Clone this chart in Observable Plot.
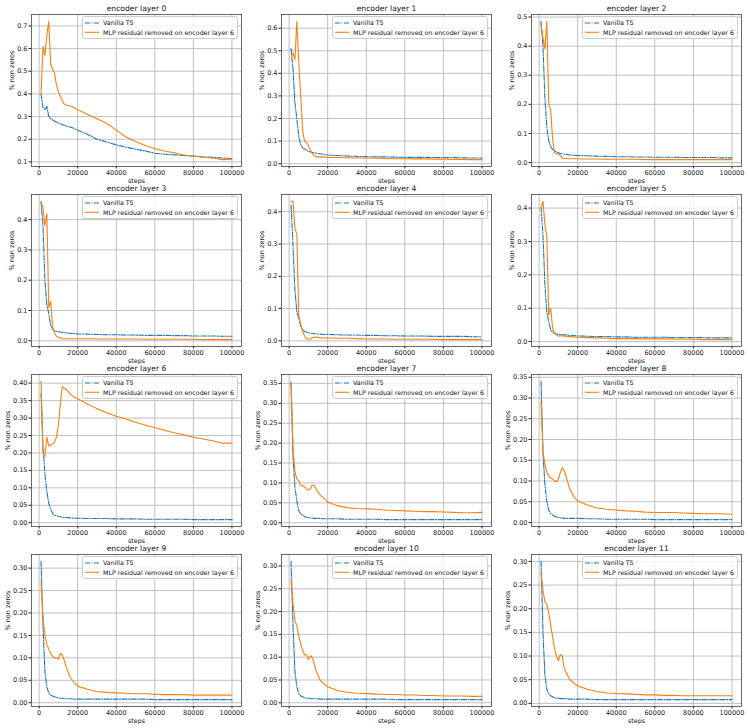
<!DOCTYPE html>
<html>
<head>
<meta charset="utf-8">
<script src="https://cdn.jsdelivr.net/npm/d3@7"></script>
<script src="https://cdn.jsdelivr.net/npm/@observablehq/plot@0.6"></script>
<style>
  body { margin: 0; background: white; }
  #root { position: relative; width: 748px; height: 728px; background: white; overflow: hidden; font-family: "DejaVu Sans", sans-serif; }
  .panel { position: absolute; width: 250px; height: 190px; }
  .panel svg.plot-svg { position: absolute; left: 0; top: 0; }
  .legend { position: absolute; left: 82px; top: 16px; }
</style>
</head>
<body>
<div id="root"></div>
<script>
// ---- data ----
const steps = [1000,2000,3000,4000,5000,6000,7000,8000,9000,10000,11000,12000,13000,14000,16000,18000,20000,25000,30000,35000,40000,45000,50000,55000,60000,65000,70000,75000,80000,85000,90000,95000,100000];

const seriesNames = ["Vanilla T5", "MLP residual removed on encoder layer 6"];
const layerTitles = ["encoder layer 0","encoder layer 1","encoder layer 2","encoder layer 3","encoder layer 4","encoder layer 5","encoder layer 6","encoder layer 7","encoder layer 8","encoder layer 9","encoder layer 10","encoder layer 11"];

const vanilla0 = [0.40,0.34,0.33,0.345,0.30,0.29,0.285,0.28,0.275,0.272,0.268,0.265,0.262,0.258,0.254,0.248,0.24,0.222,0.20,0.188,0.175,0.165,0.156,0.148,0.138,0.134,0.131,0.128,0.126,0.122,0.12,0.117,0.115];
const mlp0     = [0.40,0.61,0.57,0.66,0.72,0.53,0.51,0.49,0.44,0.41,0.39,0.37,0.355,0.35,0.348,0.34,0.33,0.31,0.29,0.27,0.24,0.21,0.19,0.172,0.158,0.148,0.14,0.13,0.125,0.12,0.117,0.11,0.112];
const vanilla1 = [0.51,0.42,0.27,0.2,0.12,0.085,0.07,0.065,0.06,0.055,0.052,0.05,0.048,0.046,0.044,0.041,0.038,0.036,0.034,0.032,0.031,0.03,0.03,0.029,0.028,0.028,0.028,0.027,0.027,0.027,0.026,0.025,0.025];
const mlp1     = [0.47,0.49,0.46,0.63,0.45,0.3,0.15,0.10,0.095,0.08,0.06,0.045,0.035,0.03,0.03,0.029,0.028,0.027,0.026,0.025,0.025,0.024,0.023,0.022,0.022,0.021,0.021,0.02,0.02,0.019,0.019,0.018,0.018];
const vanilla2 = [0.485,0.4,0.22,0.12,0.075,0.055,0.045,0.04,0.036,0.033,0.031,0.03,0.029,0.028,0.026,0.025,0.024,0.023,0.022,0.021,0.02,0.02,0.019,0.019,0.018,0.018,0.018,0.017,0.017,0.017,0.017,0.016,0.016];
const mlp2     = [0.47,0.43,0.39,0.485,0.2,0.18,0.08,0.035,0.03,0.03,0.025,0.015,0.014,0.014,0.013,0.013,0.013,0.012,0.012,0.011,0.011,0.011,0.011,0.01,0.01,0.01,0.01,0.01,0.01,0.01,0.01,0.01,0.01];
const vanilla3 = [0.46,0.38,0.2,0.12,0.09,0.05,0.04,0.033,0.031,0.03,0.029,0.028,0.027,0.026,0.025,0.024,0.023,0.022,0.021,0.02,0.02,0.019,0.019,0.018,0.018,0.018,0.017,0.017,0.016,0.016,0.016,0.015,0.015];
const mlp3     = [0.455,0.44,0.38,0.42,0.11,0.13,0.045,0.025,0.015,0.012,0.01,0.007,0.007,0.007,0.007,0.007,0.007,0.007,0.006,0.006,0.006,0.006,0.006,0.005,0.005,0.005,0.005,0.005,0.005,0.004,0.004,0.004,0.004];
const vanilla4 = [0.42,0.3,0.16,0.09,0.07,0.045,0.035,0.03,0.027,0.025,0.024,0.023,0.022,0.022,0.021,0.02,0.02,0.019,0.018,0.018,0.017,0.017,0.016,0.016,0.015,0.015,0.015,0.014,0.014,0.014,0.014,0.013,0.013];
const mlp4     = [0.432,0.432,0.35,0.33,0.08,0.05,0.03,0.015,0.007,0.005,0.006,0.01,0.011,0.012,0.01,0.009,0.009,0.008,0.008,0.007,0.006,0.006,0.006,0.005,0.005,0.005,0.005,0.005,0.004,0.004,0.004,0.004,0.004];
const vanilla5 = [0.40,0.32,0.17,0.09,0.06,0.035,0.028,0.025,0.023,0.022,0.021,0.021,0.02,0.02,0.019,0.018,0.017,0.016,0.015,0.015,0.014,0.014,0.013,0.013,0.013,0.013,0.012,0.012,0.012,0.012,0.011,0.011,0.011];
const mlp5     = [0.40,0.42,0.35,0.315,0.08,0.1,0.04,0.025,0.02,0.016,0.018,0.017,0.016,0.016,0.015,0.014,0.013,0.012,0.011,0.01,0.009,0.009,0.009,0.008,0.008,0.008,0.007,0.007,0.007,0.006,0.006,0.006,0.006];
const vanilla6 = [0.37,0.22,0.14,0.09,0.055,0.038,0.027,0.022,0.02,0.018,0.017,0.016,0.015,0.015,0.014,0.013,0.013,0.012,0.012,0.012,0.011,0.011,0.011,0.01,0.01,0.01,0.01,0.01,0.009,0.009,0.009,0.009,0.009];
const mlp6     = [0.405,0.2,0.19,0.245,0.22,0.222,0.226,0.232,0.245,0.28,0.34,0.39,0.385,0.383,0.37,0.36,0.355,0.34,0.327,0.315,0.305,0.297,0.288,0.28,0.272,0.265,0.258,0.252,0.245,0.24,0.235,0.228,0.228];
const vanilla7 = [0.35,0.17,0.09,0.055,0.03,0.022,0.019,0.016,0.014,0.013,0.012,0.012,0.011,0.011,0.011,0.01,0.01,0.01,0.009,0.009,0.009,0.009,0.008,0.008,0.008,0.008,0.008,0.008,0.008,0.008,0.008,0.008,0.008];
const mlp7     = [0.355,0.19,0.13,0.11,0.105,0.095,0.093,0.09,0.085,0.082,0.085,0.095,0.093,0.085,0.07,0.062,0.052,0.043,0.038,0.036,0.035,0.034,0.032,0.031,0.03,0.029,0.028,0.028,0.027,0.026,0.025,0.025,0.026];
const vanilla8 = [0.34,0.17,0.09,0.05,0.03,0.022,0.018,0.015,0.013,0.012,0.011,0.011,0.01,0.01,0.01,0.01,0.01,0.009,0.009,0.008,0.008,0.008,0.008,0.008,0.007,0.007,0.007,0.007,0.007,0.007,0.007,0.007,0.007];
const mlp8     = [0.29,0.17,0.14,0.12,0.112,0.108,0.105,0.1,0.098,0.105,0.12,0.132,0.125,0.11,0.08,0.062,0.052,0.042,0.035,0.032,0.03,0.028,0.027,0.025,0.024,0.024,0.024,0.023,0.022,0.021,0.021,0.021,0.02];
const vanilla9 = [0.315,0.17,0.07,0.035,0.022,0.017,0.015,0.013,0.012,0.011,0.01,0.01,0.01,0.009,0.009,0.008,0.008,0.008,0.008,0.008,0.008,0.008,0.008,0.008,0.007,0.007,0.007,0.007,0.007,0.007,0.007,0.007,0.007];
const mlp9     = [0.27,0.19,0.15,0.13,0.12,0.11,0.103,0.1,0.1,0.097,0.11,0.107,0.095,0.08,0.058,0.045,0.037,0.03,0.025,0.023,0.022,0.021,0.02,0.02,0.019,0.018,0.018,0.018,0.017,0.017,0.017,0.017,0.017];
const vanilla10 = [0.31,0.17,0.07,0.035,0.02,0.015,0.013,0.011,0.01,0.01,0.009,0.009,0.009,0.009,0.008,0.008,0.008,0.008,0.008,0.008,0.008,0.008,0.008,0.007,0.007,0.007,0.007,0.007,0.007,0.007,0.007,0.007,0.007];
const mlp10     = [0.27,0.22,0.18,0.17,0.145,0.13,0.115,0.105,0.105,0.095,0.103,0.1,0.085,0.07,0.05,0.042,0.035,0.027,0.023,0.021,0.02,0.019,0.018,0.018,0.017,0.017,0.016,0.016,0.015,0.015,0.015,0.014,0.014];
const vanilla11 = [0.30,0.15,0.06,0.03,0.02,0.016,0.014,0.012,0.011,0.011,0.01,0.01,0.01,0.01,0.009,0.009,0.009,0.009,0.008,0.008,0.008,0.008,0.008,0.008,0.008,0.008,0.008,0.008,0.008,0.008,0.008,0.008,0.008];
const mlp11     = [0.275,0.24,0.215,0.21,0.19,0.165,0.14,0.115,0.1,0.09,0.103,0.1,0.075,0.065,0.05,0.043,0.037,0.03,0.025,0.022,0.021,0.02,0.019,0.018,0.018,0.017,0.017,0.016,0.016,0.016,0.016,0.016,0.016];

const xTicks = [0, 20000, 40000, 60000, 80000, 100000];
const ticks01to07 = [0.1,0.2,0.3,0.4,0.5,0.6,0.7];
const ticks0to06 = [0,0.1,0.2,0.3,0.4,0.5,0.6];
const ticks0to05 = [0,0.1,0.2,0.3,0.4,0.5];
const ticks0to04 = [0,0.1,0.2,0.3,0.4];
const ticks0to040 = [0,0.05,0.10,0.15,0.20,0.25,0.30,0.35,0.40];
const ticks0to035 = [0,0.05,0.10,0.15,0.20,0.25,0.30,0.35];
const ticks0to030 = [0,0.05,0.10,0.15,0.20,0.25,0.30];

const vanillaByLayer = [vanilla0,vanilla1,vanilla2,vanilla3,vanilla4,vanilla5,vanilla6,vanilla7,vanilla8,vanilla9,vanilla10,vanilla11];
const mlpByLayer = [mlp0,mlp1,mlp2,mlp3,mlp4,mlp5,mlp6,mlp7,mlp8,mlp9,mlp10,mlp11];
const yTicksByLayer = [ticks01to07,ticks0to06,ticks0to05,ticks0to04,ticks0to04,ticks0to04,ticks0to040,ticks0to035,ticks0to035,ticks0to030,ticks0to030,ticks0to030];

// ---- drawing ----
const BLUE = "#1f77b4", ORANGE = "#ff7f0e";
const root = document.getElementById("root");

function legendSVG() {
  const ns = "http://www.w3.org/2000/svg";
  const s = document.createElementNS(ns, "svg");
  s.setAttribute("width", 156); s.setAttribute("height", 23);
  s.setAttribute("class", "legend");
  s.innerHTML = `
    <rect x="0.5" y="0.5" width="155" height="22" rx="2" fill="white" fill-opacity="0.8" stroke="#cccccc" stroke-width="1"/>
    <line x1="3" x2="17" y1="7" y2="7" stroke="${BLUE}" stroke-width="1.1" stroke-dasharray="5,1.5,1,1.5"/>
    <line x1="3" x2="17" y1="16.3" y2="16.3" stroke="${ORANGE}" stroke-width="1.1"/>
    <text x="21" y="7" dy="0.35em" font-family="DejaVu Sans" font-size="6.3" fill="#111">${seriesNames[0]}</text>
    <text x="21" y="16.3" dy="0.35em" font-family="DejaVu Sans" font-size="6.3" fill="#111">${seriesNames[1]}</text>`;
  return s;
}

for (let i = 0; i < 12; i++) {
  const col = i % 3, row = Math.floor(i / 3);
  const v = vanillaByLayer[i], m = mlpByLayer[i];
  const vData = steps.map((s, k) => ({step: s, value: v[k]}));
  const mData = steps.map((s, k) => ({step: s, value: m[k]}));
  const all = v.concat(m);
  const lo = d3.min(all), hi = d3.max(all), pad = (hi - lo) * 0.05;
  const yTicks = yTicksByLayer[i];
  const fine = (yTicks[1] - yTicks[0]) < 0.07;
  const fmt = fine ? d3.format(".2f") : d3.format(".1f");

  const chart = Plot.plot({
    width: 250,
    height: 190,
    marginLeft: 31,
    marginRight: 9,
    marginTop: 14,
    marginBottom: 24,
    style: {background: "transparent", fontFamily: "DejaVu Sans", fontSize: "6.5px", color: "#222", overflow: "visible"},
    x: {domain: [-3950, 104950], ticks: xTicks, tickFormat: d3.format("d"), tickSize: 2.5, tickPadding: 1.5, label: null},
    y: {domain: [lo - pad, hi + pad], ticks: yTicks, tickFormat: fmt, tickSize: 2.5, tickPadding: 1.5, label: null},
    marks: [
      Plot.ruleX(xTicks, {stroke: "#b0b0b0", strokeWidth: 0.8}),
      Plot.ruleY(yTicks, {stroke: "#b0b0b0", strokeWidth: 0.8}),
      Plot.line(vData, {x: "step", y: "value", stroke: BLUE, strokeWidth: 1.1, strokeDasharray: "5,1.5,1,1.5"}),
      Plot.line(mData, {x: "step", y: "value", stroke: ORANGE, strokeWidth: 1.1}),
      Plot.frame({stroke: "#444", strokeWidth: 0.8}),
      Plot.text([layerTitles[i]], {text: d => d, frameAnchor: "top", lineAnchor: "middle", dy: -6, fontSize: 7.6, fill: "#111"}),
      Plot.text(["steps"], {text: d => d, frameAnchor: "bottom", lineAnchor: "middle", dy: 14.5, fontSize: 6.3, fill: "#111"}),
      Plot.text(["% non zeros"], {text: d => d, frameAnchor: "left", lineAnchor: "middle", rotate: -90, dx: fine ? -24 : -20, fontSize: 6.5, fill: "#111"})
    ]
  });
  chart.classList.add("plot-svg");

  const div = document.createElement("div");
  div.className = "panel";
  div.style.left = (col * 250) + "px";
  div.style.top = (row * 180) + "px";
  div.appendChild(chart);
  div.appendChild(legendSVG());
  root.appendChild(div);
}
</script>
</body>
</html>
